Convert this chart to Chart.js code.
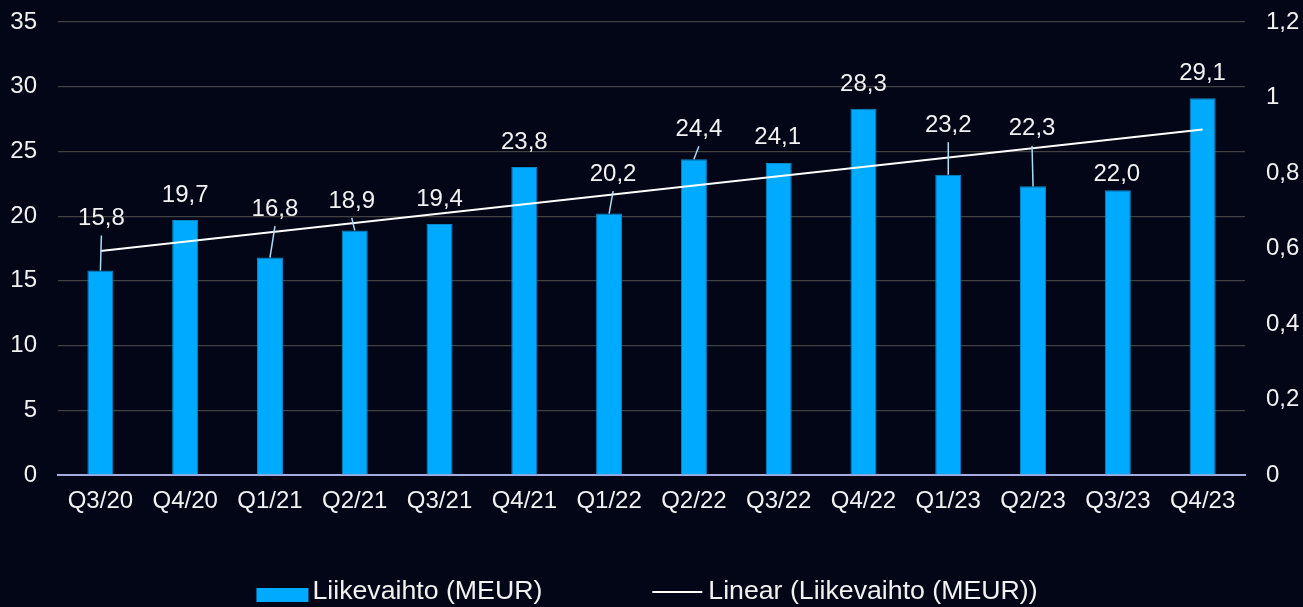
<!DOCTYPE html>
<html>
<head>
<meta charset="utf-8">
<script src="https://cdn.jsdelivr.net/npm/chart.js@4.4.1/dist/chart.umd.min.js"></script>
<style>
  html, body { margin: 0; padding: 0; background: #020617; }
  #wrap { width: 1303px; height: 607px; }
</style>
</head>
<body>
<div id="wrap"><canvas id="chart" width="1303" height="607"></canvas></div>
<script>
const quarters = ['Q3/20', 'Q4/20', 'Q1/21', 'Q2/21', 'Q3/21', 'Q4/21', 'Q1/22',
                  'Q2/22', 'Q3/22', 'Q4/22', 'Q1/23', 'Q2/23', 'Q3/23', 'Q4/23'];
const revenue = [15.8, 19.7, 16.8, 18.9, 19.4, 23.8, 20.2, 24.4, 24.1, 28.3, 23.2, 22.3, 22.0, 29.1];
// trend line end points (MEUR)
const trend = [17.3, null, null, null, null, null, null, null, null, null, null, null, null, 26.7];
const leftAxis = { min: 0, max: 35, step: 5 };
const rightAxis = { min: 0, max: 1.2, step: 0.2 };

const textColor = '#f2f2f2';
const fontFamily = "'Liberation Sans', Arial, sans-serif";

function fiNum(v, digits) {
    return (digits === undefined ? String(Math.round(v * 10) / 10) : v.toFixed(digits)).replace('.', ',');
}

// y axes: fixed width, no extra top/bottom padding from tick labels
function fitVertical(s) {
    s.width = 58;
    s.paddingTop = 0;
    s.paddingBottom = 0;
}

const barLabels = {
    id: 'barLabels',
    afterDatasetsDraw(chart, args, opts) {
        const ctx = chart.ctx;
        const meta = chart.getDatasetMeta(0);
        ctx.save();
        ctx.font = opts.font;
        ctx.textAlign = 'center';
        ctx.textBaseline = 'middle';
        meta.data.forEach((bar, i) => {
            const off = opts.offsets[i];
            const lx = bar.x + off[0];
            const ly = bar.y + off[1];
            if (opts.leaders.includes(i)) {
                ctx.strokeStyle = opts.leaderColor;
                ctx.lineWidth = 1.5;
                ctx.beginPath();
                ctx.moveTo(bar.x, bar.y);
                ctx.lineTo(lx, ly + 17);
                ctx.stroke();
            }
            ctx.fillStyle = textColor;
            ctx.fillText(fiNum(revenue[i], 1), lx, ly);
        });
        ctx.restore();
    }
};

const bottomLegend = {
    id: 'bottomLegend',
    afterDraw(chart, args, opts) {
        const ctx = chart.ctx;
        const ds = chart.data.datasets;
        ctx.save();
        ctx.font = opts.font;
        ctx.textBaseline = 'middle';
        ctx.textAlign = 'left';
        const w1 = 52 + 4 + ctx.measureText(ds[0].label).width;
        const w2 = 50 + 6 + ctx.measureText(ds[1].label).width;
        const total = w1 + opts.gap + w2;
        let x = chart.width / 2 - 4.5 - total / 2;
        const y = opts.y;
        ctx.fillStyle = ds[0].backgroundColor;
        ctx.fillRect(x, y - 4, 52, 14);
        ctx.fillStyle = textColor;
        ctx.fillText(ds[0].label, x + 56, y);
        x += w1 + opts.gap;
        ctx.strokeStyle = ds[1].borderColor;
        ctx.lineWidth = 2;
        ctx.beginPath();
        ctx.moveTo(x, y);
        ctx.lineTo(x + 50, y);
        ctx.stroke();
        ctx.fillText(ds[1].label, x + 56, y);
        ctx.restore();
    }
};

const ctx = document.getElementById('chart').getContext('2d');
new Chart(ctx, {
    type: 'bar',
    data: {
        labels: quarters,
        datasets: [
            {
                label: 'Liikevaihto (MEUR)',
                data: revenue,
                backgroundColor: '#00aaff',
                borderColor: '#0788cc',
                borderWidth: 1,
                categoryPercentage: 1,
                barPercentage: 0.307,
                yAxisID: 'y',
                order: 2
            },
            {
                type: 'line',
                label: 'Linear (Liikevaihto (MEUR))',
                data: trend,
                spanGaps: true,
                borderColor: '#ffffff',
                borderWidth: 2,
                pointRadius: 0,
                yAxisID: 'y',
                order: 1
            }
        ]
    },
    options: {
        responsive: false,
        animation: false,
        devicePixelRatio: 1,
        layout: { padding: { top: 22, left: 0, right: 0, bottom: 0 } },
        scales: {
            x: {
                grid: { display: false, drawTicks: false },
                border: { display: true, color: '#a4acdf', width: 2 },
                ticks: { color: textColor, font: { family: fontFamily, size: 24 }, padding: 12, maxRotation: 0 },
                afterFit: (s) => { s.height = 132; }
            },
            y: {
                position: 'left',
                min: leftAxis.min,
                max: leftAxis.max,
                grid: { color: '#424242', lineWidth: 1.2, drawTicks: false },
                border: { display: false },
                ticks: { stepSize: leftAxis.step, color: textColor, font: { family: fontFamily, size: 24 }, padding: 21 },
                afterFit: fitVertical
            },
            y2: {
                position: 'right',
                min: rightAxis.min,
                max: rightAxis.max,
                grid: { display: false, drawTicks: false },
                border: { display: false },
                ticks: {
                    stepSize: rightAxis.step,
                    color: textColor,
                    font: { family: fontFamily, size: 24 },
                    padding: 21,
                    callback: (v) => fiNum(v)
                },
                afterFit: fitVertical
            }
        },
        plugins: {
            legend: { display: false },
            tooltip: { enabled: false },
            barLabels: {
                font: "24px " + fontFamily,
                leaderColor: '#a9dcf5',
                leaders: [0, 2, 3, 6, 7, 10, 11],
                offsets: [[1, -52], [0, -24.5], [5, -48.5], [-3, -29.5], [0, -24.5], [0, -25], [4, -39.5],
                          [5, -30], [-1, -26], [0, -24.5], [0, -49.5], [-1, -57.5], [-1, -16], [0, -24.5]]
            },
            bottomLegend: { font: "26.7px " + fontFamily, gap: 110, y: 592 }
        }
    },
    plugins: [barLabels, bottomLegend]
});
</script>
</body>
</html>
